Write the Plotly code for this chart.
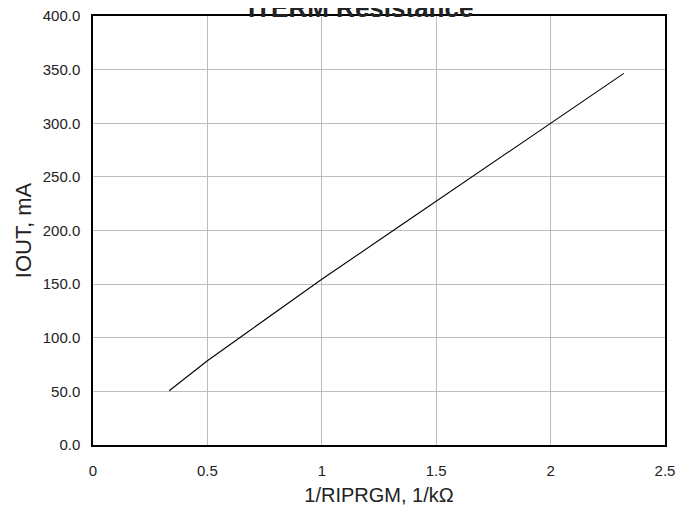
import plotly.graph_objects as go

# Data
x_inv_r = [0.333, 0.4, 0.5, 0.667, 1.0, 1.333, 2.0, 2.32]
iout_ma = [50.6, 61.8, 78.6, 104.0, 154.5, 203.0, 300.0, 346.5]

x_ticks = [0, 0.5, 1, 1.5, 2, 2.5]
x_tick_labels = ["0", "0.5", "1", "1.5", "2", "2.5"]
y_ticks = [0, 50, 100, 150, 200, 250, 300, 350, 400]

title_text = "ITERM Resistance"
x_title = "1/RIPRGM, 1/kΩ"
y_title = "IOUT, mA"

FONT = "Liberation Sans, Arial, sans-serif"

fig = go.Figure()
fig.add_trace(go.Scatter(
    x=x_inv_r, y=iout_ma, mode="lines",
    line=dict(color="black", width=1.1),
    showlegend=False, hoverinfo="skip",
))

W, H = 691, 508
L, T = 84.5, 8
PW, PH = 572.5, 429
R = W - L - PW
B = H - T - PH

fig.update_layout(
    width=W, height=H,
    margin=dict(l=L, r=R, t=T, b=B, pad=0, autoexpand=False),
    paper_bgcolor="white", plot_bgcolor="white",
    font=dict(family=FONT, color="#222222"),
    xaxis=dict(
        range=[0, 2.5], tickvals=x_ticks, ticktext=x_tick_labels,
        showgrid=True, gridcolor="#bdbdbd", gridwidth=1,
        showline=True, linecolor="black", linewidth=1.5, mirror=True,
        zeroline=False, ticks="", tickfont=dict(size=15, family=FONT, color="#222"),
        ticklabelstandoff=11, automargin=False, ticklabeloverflow="allow",
        title=dict(text=x_title, font=dict(size=20, family=FONT, color="#222"), standoff=10),
    ),
    yaxis=dict(
        range=[0, 400], tickvals=y_ticks, tickformat=".1f",
        showgrid=True, gridcolor="#bdbdbd", gridwidth=1,
        showline=True, linecolor="black", linewidth=1.5, mirror=True,
        zeroline=False, ticks="", tickfont=dict(size=15, family=FONT, color="#222"),
        ticklabelstandoff=8, automargin=False, ticklabeloverflow="allow",
        title=dict(text=y_title, font=dict(size=22, family=FONT, color="#222"), standoff=5),
    ),
    annotations=[dict(
        text="<b>" + title_text + "</b>", xref="paper", yref="paper",
        x=(352 - L) / PW, y=1 + 7.5 / PH,
        xanchor="center", yanchor="middle", showarrow=False,
        font=dict(size=26, family=FONT, color="#222"),
    )],
)

fig.write_html("out.html")
